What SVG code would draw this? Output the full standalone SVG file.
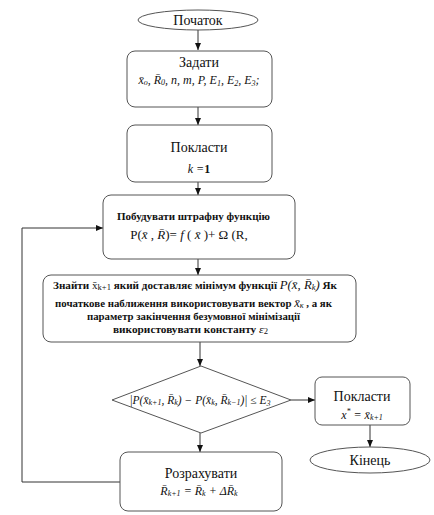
<svg xmlns="http://www.w3.org/2000/svg" width="434" height="515" viewBox="0 0 434 515">
<style>
.box{fill:#fff;stroke:#555;stroke-width:1}
.ln{fill:none;stroke:#333;stroke-width:1}
text{font-family:"Liberation Serif","DejaVu Serif","Times New Roman",serif;fill:#111}
.t{font-size:14px;text-anchor:middle}
.m{font-style:italic;font-size:12px;text-anchor:middle}
.b{font-weight:bold;font-size:10.5px;text-anchor:start}
.n{font-weight:normal}
.i{font-style:italic;font-weight:normal}
.s{font-size:8px}
</style>
<defs>
<marker id="arr" markerWidth="7" markerHeight="6" refX="7" refY="3" orient="auto" markerUnits="userSpaceOnUse">
<path d="M0,0 L7,3 L0,6 z" fill="#111"/>
</marker>
</defs>
<g id="connectors">
<line class="ln" x1="198" y1="30" x2="198" y2="50" marker-end="url(#arr)"/>
<line class="ln" x1="198" y1="107" x2="198" y2="125" marker-end="url(#arr)"/>
<line class="ln" x1="198" y1="182" x2="198" y2="195" marker-end="url(#arr)"/>
<line class="ln" x1="198" y1="259" x2="198" y2="275" marker-end="url(#arr)"/>
<line class="ln" x1="200" y1="342" x2="200" y2="366" marker-end="url(#arr)"/>
<line class="ln" x1="200" y1="433" x2="200" y2="452" marker-end="url(#arr)"/>
<line class="ln" x1="291" y1="400" x2="315" y2="400" marker-end="url(#arr)"/>
<line class="ln" x1="370" y1="425" x2="370" y2="447" marker-end="url(#arr)"/>
<polyline class="ln" points="120,482 22,482 22,228 103,228" marker-end="url(#arr)"/>
</g>
<g id="start">
<ellipse class="box" cx="198" cy="20" rx="60" ry="10"/>
<text class="t" x="198" y="25">Початок</text>
</g>
<g id="zadaty">
<rect class="box" x="127" y="51" width="145" height="56" rx="8"/>
<text class="t" x="199" y="67">Задати</text>
<text class="m" x="199" y="84">x̄<tspan class="s" dy="1">o</tspan><tspan dy="-1">, R̄</tspan><tspan class="s" dy="1">0</tspan><tspan dy="-1">, n, m, P, E</tspan><tspan class="s" dy="2">1</tspan><tspan dy="-2">, E</tspan><tspan class="s" dy="2">2</tspan><tspan dy="-2">, E</tspan><tspan class="s" dy="2">3</tspan><tspan dy="-2">;</tspan></text>
</g>
<g id="poklasty1">
<rect class="box" x="127" y="125" width="145" height="57" rx="8"/>
<text class="t" x="199" y="152">Покласти</text>
<text class="m" x="199" y="173">k =<tspan style="font-style:normal;font-weight:bold">1</tspan></text>
</g>
<g id="pobuduvaty">
<rect class="box" x="103" y="195" width="192" height="64" rx="8"/>
<text class="b" x="117" y="220" textLength="153" lengthAdjust="spacingAndGlyphs">Побудувати штрафну функцію</text>
<text class="t" x="189" y="239" style="font-size:13px">P(<tspan font-style="italic">x̄</tspan>  , <tspan font-style="italic">R̄</tspan>)= <tspan font-style="italic">f</tspan> ( <tspan font-style="italic">x̄</tspan> )+ Ω (R,</text>
</g>
<g id="znaity">
<rect class="box" x="43" y="275" width="313" height="67" rx="8"/>
<text class="b" x="53" y="289" textLength="284" lengthAdjust="spacingAndGlyphs">Знайти <tspan class="n">x̄</tspan><tspan class="n s" dy="1">k+1</tspan><tspan dy="-1"> який доставляє мінімум функції  </tspan><tspan class="i" style="font-size:12px">P(x̄, R̄</tspan><tspan class="i s" dy="1">k</tspan><tspan class="i" dy="-1" style="font-size:12px">)</tspan>  Як</text>
<text class="b" x="55" y="307" textLength="277" lengthAdjust="spacingAndGlyphs">початкове наближення використовувати вектор <tspan class="i" style="font-size:12px">x̄</tspan><tspan class="i s" dy="1">к</tspan><tspan dy="-1"> , а як</tspan></text>
<text class="b" x="87" y="320" textLength="213" lengthAdjust="spacingAndGlyphs">параметр закінчення безумовної мінімізації</text>
<text class="b" x="113" y="333" textLength="155" lengthAdjust="spacingAndGlyphs">використовувати константу  <tspan class="i" style="font-size:11px">ε</tspan><tspan class="n s" dy="1">2</tspan></text>
</g>
<g id="check">
<polygon class="box" points="201,366 291,400 201,433 112,400"/>
<text class="m" x="200" y="404" style="font-size:11.5px">|P(x̄<tspan class="s" dy="1">k+1</tspan><tspan dy="-1">, R̄</tspan><tspan class="s" dy="1">k</tspan><tspan dy="-1">) − P(x̄</tspan><tspan class="s" dy="1">k</tspan><tspan dy="-1">, R̄</tspan><tspan class="s" dy="1">k−1</tspan><tspan dy="-1">)| ≤ E</tspan><tspan class="s" dy="2">3</tspan></text>
</g>
<g id="poklasty2">
<rect class="box" x="315" y="377" width="95" height="48" rx="7"/>
<text class="t" x="362" y="401">Покласти</text>
<text class="m" x="362" y="419">x<tspan class="s" dy="-5">*</tspan><tspan dy="5"> = x̄</tspan><tspan class="s" dy="1">k+1</tspan></text>
</g>
<g id="end">
<ellipse class="box" cx="370" cy="460" rx="60" ry="13"/>
<text class="t" x="370" y="465">Кінець</text>
</g>
<g id="rozrakhuvaty">
<rect class="box" x="120" y="452" width="162" height="59" rx="8"/>
<text class="t" x="201" y="478">Розрахувати</text>
<text class="m" x="199" y="495">R̄<tspan class="s" dy="1">k+1</tspan><tspan dy="-1"> = R̄</tspan><tspan class="s" dy="1">k</tspan><tspan dy="-1"> + ΔR̄</tspan><tspan class="s" dy="1">k</tspan></text>
</g>
</svg>
